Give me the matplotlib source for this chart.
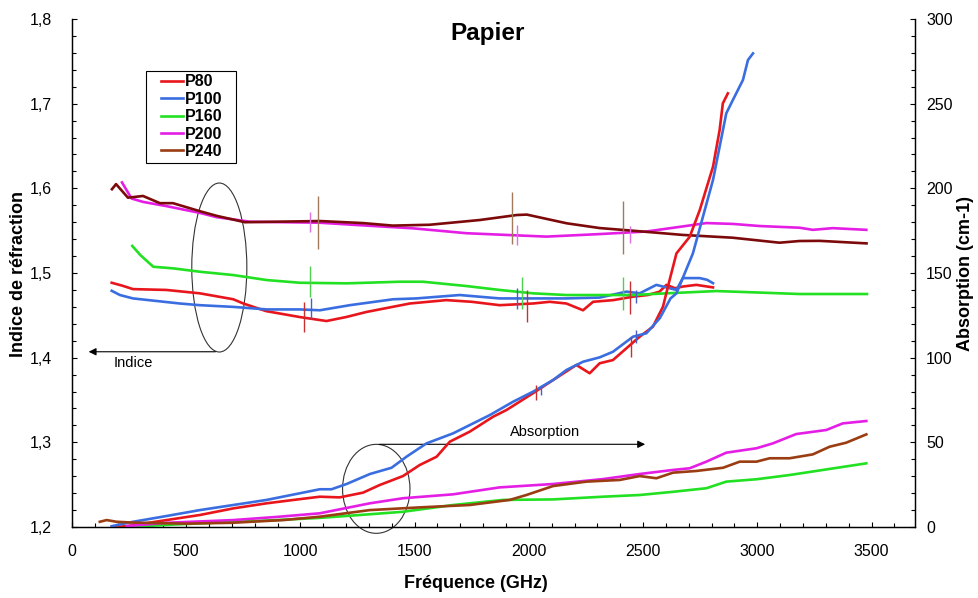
import numpy as np
import matplotlib
matplotlib.use("Agg")
import matplotlib.pyplot as plt
from matplotlib.patches import Ellipse, Rectangle
from matplotlib.ticker import MultipleLocator, FuncFormatter

plt.rcParams['font.family'] = ['Liberation Sans', 'DejaVu Sans']

# Indice de réfraction (axe gauche)
p80_n_f = [174, 221, 267, 413, 560, 706, 750, 850, 997, 1114, 1200, 1289, 1479, 1639, 1750, 1872, 2018,
           2091, 2164, 2237, 2281, 2370, 2454, 2520, 2572, 2602, 2640, 2673, 2733, 2806]
p80_n = [1.4885, 1.485, 1.481, 1.480, 1.476, 1.469, 1.464, 1.455, 1.448, 1.4433, 1.448, 1.454, 1.464, 1.468,
         1.466, 1.462, 1.464, 1.466, 1.464, 1.456, 1.466, 1.468, 1.472, 1.474, 1.478, 1.486, 1.482, 1.484,
         1.486, 1.483]

p100_n_f = [174, 210, 267, 472, 560, 706, 852, 997, 1085, 1216, 1406, 1508, 1697, 1872, 2018, 2164, 2310,
            2427, 2485, 2558, 2616, 2646, 2674, 2748, 2780, 2806]
p100_n = [1.479, 1.474, 1.470, 1.464, 1.462, 1.460, 1.457, 1.457, 1.456, 1.462, 1.469, 1.470, 1.474, 1.470,
          1.470, 1.470, 1.471, 1.478, 1.476, 1.486, 1.482, 1.480, 1.494, 1.494, 1.492, 1.488]

p160_n_f = [264, 300, 356, 443, 560, 706, 852, 997, 1202, 1435, 1537, 1727, 1872, 2018, 2164, 2310, 2454,
            2602, 2821, 3000, 3185, 3480]
p160_n = [1.532, 1.521, 1.5074, 1.5055, 1.5015, 1.4976, 1.4917, 1.4885, 1.4878, 1.4897, 1.4897, 1.4846,
          1.480, 1.476, 1.474, 1.474, 1.474, 1.476, 1.4787, 1.477, 1.4752, 1.4752]

p200_n_f = [219, 261, 311, 414, 560, 633, 779, 1085, 1290, 1492, 1727, 1900, 2077, 2310, 2514, 2673, 2777,
            2892, 3010, 3185, 3243, 3330, 3477]
p200_n = [1.607, 1.588, 1.584, 1.579, 1.571, 1.566, 1.5606, 1.5594, 1.556, 1.5528, 1.547, 1.545, 1.543,
          1.546, 1.549, 1.555, 1.559, 1.558, 1.5555, 1.5535, 1.551, 1.553, 1.551]

p240_n_f = [175, 193, 245, 311, 385, 442, 560, 634, 757, 1085, 1273, 1404, 1566, 1785, 1947, 1991, 2166,
            2310, 2454, 2673, 2892, 3097, 3185, 3272, 3478]
p240_n = [1.599, 1.605, 1.589, 1.591, 1.5825, 1.5825, 1.573, 1.5675, 1.560, 1.5614, 1.559, 1.556, 1.557,
          1.5626, 1.5685, 1.569, 1.5587, 1.5531, 1.550, 1.545, 1.5417, 1.5358, 1.5378, 1.538, 1.535]

# Absorption (axe droit)
p80_a_f = [175, 240, 414, 560, 706, 852, 1000, 1085, 1172, 1274, 1347, 1449, 1522, 1596, 1654, 1741, 1843,
           1902, 2018, 2106, 2208, 2266, 2310, 2368, 2485, 2543, 2587, 2616, 2646, 2704, 2748, 2806, 2835,
           2849, 2871]
p80_a = [0.0, 0.5, 4.1, 7.1, 11, 14, 16.5, 17.9, 17.5, 20.3, 24.8, 30.1, 36.6, 41.5, 50.4, 56.3, 65.1, 69.1,
         79, 86.8, 95.7, 90.8, 96.7, 98.6, 112.4, 118.3, 130.1, 145.9, 161.6, 171.4, 187.2, 212.8, 234.5,
         250.2, 256.1]

p100_a_f = [174, 268, 414, 560, 706, 852, 1000, 1085, 1136, 1202, 1304, 1399, 1464, 1552, 1668, 1741, 1829,
            1931, 2018, 2106, 2164, 2237, 2310, 2368, 2456, 2514, 2573, 2620, 2646, 2718, 2806, 2864, 2893,
            2937, 2959, 2981]
p100_a = [0.5, 3.1, 6.5, 10, 13, 16, 20, 22.3, 22.3, 25.4, 31.3, 35, 41.5, 49.4, 55.3, 60.2, 66.1, 74, 79.9,
          86.8, 92.7, 97.6, 100.2, 103.5, 112.4, 114.4, 123.3, 135, 138, 161.6, 205, 244.3, 252.2, 264,
          275.8, 279.7]

p160_a_f = [268, 450, 633, 850, 1085, 1260, 1449, 1668, 1887, 2106, 2324, 2485, 2631, 2777, 2864, 2996,
            3141, 3287, 3477]
p160_a = [0.2, 1.5, 2.6, 3.8, 5.4, 7.1, 9, 13, 16, 16.3, 17.9, 18.9, 20.8, 22.9, 26.8, 28.2, 30.7, 33.7, 37.6]

p200_a_f = [239, 414, 706, 900, 1085, 1304, 1449, 1668, 1872, 2106, 2324, 2485, 2631, 2704, 2777, 2864,
            2996, 3068, 3170, 3302, 3374, 3477]
p200_a = [0.5, 2.5, 4.1, 6, 8.1, 14, 17, 19.3, 23.4, 25.4, 28.3, 31.3, 33.7, 34.7, 38.6, 43.9, 46.5, 49.4,
          54.9, 57.3, 61.2, 62.6]

p240_a_f = [122, 152, 195, 268, 500, 700, 925, 1085, 1304, 1522, 1741, 1916, 1989, 2106, 2252, 2398, 2485,
            2558, 2631, 2733, 2850, 2923, 2996, 3054, 3141, 3243, 3316, 3389, 3477]
p240_a = [3.1, 4.1, 3.1, 2.6, 2.0, 2.5, 4.1, 6.1, 10, 11.6, 13, 16, 18.9, 24.2, 26.8, 27.8, 30.1, 28.8, 32.1,
          33.1, 35, 38.6, 38.6, 40.6, 40.6, 42.9, 47.4, 49.8, 54.7]

# barres d'erreur (indice)
p80_en_f = [1016, 1990, 2441]
p80_en = [1.448, 1.461, 1.471]
p80_en_d = [0.018, 0.019, 0.019]
p100_en_f = [1045, 1946, 2470]
p100_en = [1.458, 1.470, 1.472]
p100_en_d = [0.012, 0.012, 0.008]
p160_en_f = [1041, 1971, 2412]
p160_en = [1.490, 1.4765, 1.4755]
p160_en_d = [0.018, 0.0185, 0.0195]
p200_en_f = [1041, 1946, 2441]
p200_en = [1.560, 1.545, 1.5455]
p200_en_d = [0.0115, 0.012, 0.0105]
p240_en_f = [1075, 1924, 2412]
p240_en = [1.5595, 1.565, 1.5535]
p240_en_d = [0.0315, 0.031, 0.0315]

# barres d'erreur (absorption)
p80_ea_f = [2033, 2448]
p80_ea = [79.5, 106.5]
p80_ea_d = [4.5, 6]
p100_ea_f = [2055, 2470]
p100_ea = [80.5, 112.4]
p100_ea_d = [2.5, 4]

labels = ['P80', 'P100', 'P160', 'P200', 'P240']
colors = ['#e8161c', '#3a6ee0', '#22e022', '#e51ee5', '#9a3d12']
index_colors = ['#e8161c', '#3a6ee0', '#22e022', '#e51ee5', '#7d0a0a']
err_colors = ['#c83030', '#4a5ec8', '#50d050', '#e070e0', '#a07a5a']

fig = plt.figure(figsize=(9.79, 5.98), dpi=100)
ax = fig.add_axes([0.0735, 0.1187, 0.8611, 0.8495])
ax2 = ax.twinx()

n_data = [(p80_n_f, p80_n), (p100_n_f, p100_n), (p160_n_f, p160_n), (p200_n_f, p200_n), (p240_n_f, p240_n)]
a_data = [(p80_a_f, p80_a), (p100_a_f, p100_a), (p160_a_f, p160_a), (p200_a_f, p200_a), (p240_a_f, p240_a)]
en_data = [(p80_en_f, p80_en, p80_en_d), (p100_en_f, p100_en, p100_en_d), (p160_en_f, p160_en, p160_en_d),
           (p200_en_f, p200_en, p200_en_d), (p240_en_f, p240_en, p240_en_d)]
ea_data = [(p80_ea_f, p80_ea, p80_ea_d), (p100_ea_f, p100_ea, p100_ea_d)]

for (f, n), c in zip(n_data, index_colors):
    ax.plot(f, n, color=c, lw=1.9)
for (f, v, d), c in zip(en_data, err_colors):
    ax.errorbar(f, v, yerr=d, fmt='none', ecolor=c, elinewidth=1, capsize=0)

handles = []
for (f, a), c, lab in zip(a_data, colors, labels):
    h, = ax2.plot(f, a, color=c, lw=1.9, label=lab)
    handles.append(h)
for (f, v, d), c in zip(ea_data, err_colors):
    ax2.errorbar(f, v, yerr=d, fmt='none', ecolor=c, elinewidth=1, capsize=0)

# axes
ax.set_xlim(0, 3690)
ax.set_ylim(1.2, 1.8)
ax2.set_ylim(0, 300)
ax.xaxis.set_major_locator(MultipleLocator(500))
ax.xaxis.set_minor_locator(MultipleLocator(100))
ax.yaxis.set_major_locator(MultipleLocator(0.1))
ax.yaxis.set_minor_locator(MultipleLocator(0.02))
ax.yaxis.set_major_formatter(FuncFormatter(lambda v, p: f"{v:.1f}".replace('.', ',')))
ax2.yaxis.set_major_locator(MultipleLocator(50))
ax2.yaxis.set_minor_locator(MultipleLocator(10))
for a in (ax, ax2):
    a.spines['top'].set_visible(False)
    a.tick_params(which='major', direction='in', length=3.5, width=0.8, labelsize=11.5)
    a.tick_params(which='minor', direction='in', length=2.8, width=0.8)
    for s in a.spines.values():
        s.set_linewidth(0.9)
ax.tick_params(axis='y', which='major', pad=14.5)
ax.tick_params(axis='x', which='major', pad=12.5)
ax2.tick_params(axis='y', which='major', pad=8)

# annotations
ax.add_patch(Ellipse((645, 1.5065), 241, 0.1996, fill=False, ec='#333333', lw=0.8))
ax.add_patch(Ellipse((1332, 1.2451), 295, 0.1051, fill=False, ec='#333333', lw=0.8, clip_on=False))
ax.annotate('', xy=(61, 1.407), xytext=(640, 1.407),
            arrowprops=dict(arrowstyle='-|>', color='black', lw=0.8, mutation_scale=11))
ax.annotate('', xy=(2521, 1.2977), xytext=(1333, 1.2977),
            arrowprops=dict(arrowstyle='-|>', color='black', lw=0.8, mutation_scale=11))
ax.text(181, 1.3943, 'Indice', fontsize=10.5, va='center', ha='left')
ax.text(1916, 1.3118, 'Absorption', fontsize=10.5, va='center', ha='left')

# légende : cadre dessiné à part
ax2.add_patch(Rectangle((146 / 979, 1 - 163 / 598), 90 / 979, 92 / 598, transform=fig.transFigure,
                        fill=True, fc='white', ec='black', lw=0.8, zorder=5, clip_on=False))
leg = ax2.legend(handles=handles, loc='upper left', bbox_to_anchor=(161 / 979, 1 - 74.5 / 598),
                 bbox_transform=fig.transFigure, prop={'weight': 'bold', 'size': 11.5}, frameon=False,
                 handlelength=1.35, handletextpad=0.15, labelspacing=0.15, borderpad=0, borderaxespad=0)
leg.set_zorder(6)

fig.text(0.498, 0.9448, 'Papier', fontsize=17.5, fontweight='bold', ha='center', va='center')
fig.text(0.486, 0.025, 'Fréquence (GHz)', fontsize=13, fontweight='bold', ha='center', va='center')
fig.text(0.0184, 0.541, 'Indice de réfraction', fontsize=13, fontweight='bold', rotation=90,
         ha='center', va='center')
fig.text(0.9857, 0.542, 'Absorption (cm-1)', fontsize=13, fontweight='bold', rotation=90,
         ha='center', va='center')

fig.savefig('out.png', dpi=100)
